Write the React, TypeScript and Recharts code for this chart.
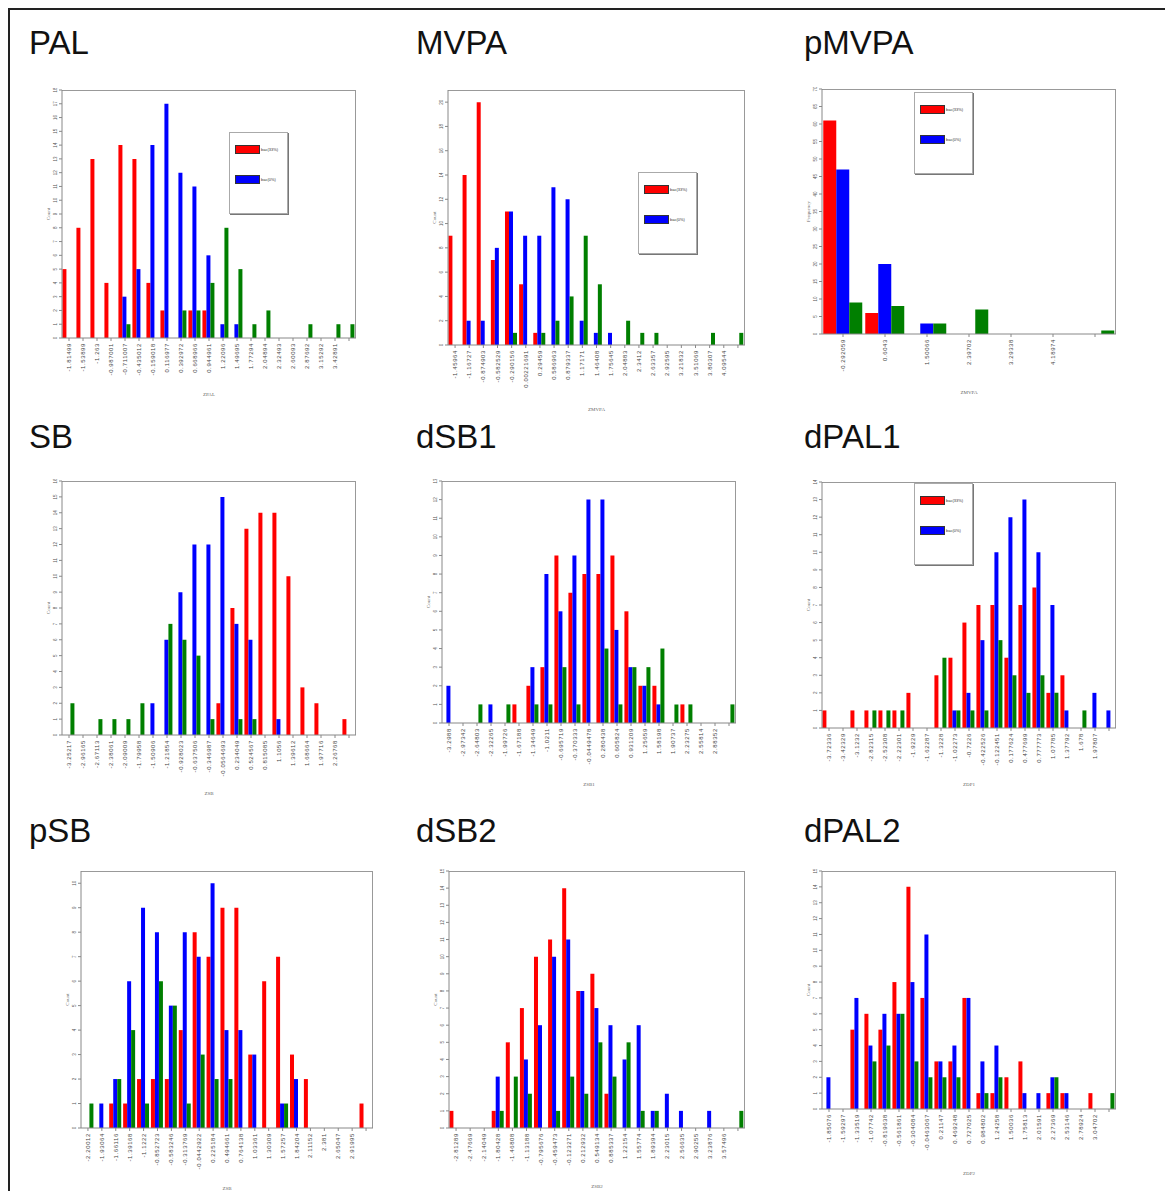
import React from 'react';
import { BarChart, Bar, XAxis, YAxis } from 'recharts';

const RED = '#ff0000';
const BLUE = '#0000ff';
const GREEN = '#007f00';
const SMALL_FONT = '"Liberation Sans", Arial, sans-serif';

// PAL
const palLabels = ['-1.81499', '-1.53899', '-1.263', '-0.987001', '-0.711007', '-0.435012', '-0.159018', '0.116977', '0.392972', '0.668966', '0.944961', '1.22096', '1.49695', '1.77294', '2.04894', '2.32493', '2.60093', '2.87692', '3.15292', '3.42891', ''];
const palRed = [5, 8, 13, 4, 14, 13, 4, 2, 0, 2, 2, 0, 0, 0, 0, 0, 0, 0, 0, 0, 0];
const palBlue = [0, 0, 0, 0, 3, 5, 14, 17, 12, 11, 6, 1, 1, 0, 0, 0, 0, 0, 0, 0, 0];
const palGreen = [0, 0, 0, 0, 1, 0, 0, 0, 2, 2, 4, 8, 5, 1, 2, 0, 0, 1, 0, 1, 1];

// MVPA
const mvpaLabels = ['-1.45964', '-1.16727', '-0.874903', '-0.582529', '-0.290156', '0.00221691', '0.29459', '0.586963', '0.879337', '1.17171', '1.46408', '1.75645', '2.04883', '2.3412', '2.63357', '2.92595', '3.21832', '3.51069', '3.80307', '4.09544', ''];
const mvpaRed = [9, 14, 20, 7, 11, 5, 1, 0, 0, 0, 0, 0, 0, 0, 0, 0, 0, 0, 0, 0, 0];
const mvpaBlue = [0, 2, 2, 8, 11, 9, 9, 13, 12, 2, 1, 1, 0, 0, 0, 0, 0, 0, 0, 0, 0];
const mvpaGreen = [0, 0, 0, 0, 1, 0, 1, 2, 4, 9, 5, 0, 2, 1, 1, 0, 0, 0, 1, 0, 1];

// pMVPA
const pmvpaLabels = ['-0.292059', '0.6043', '1.50066', '2.39702', '3.29338', '4.18974', ''];
const pmvpaRed = [61, 6, 0, 0, 0, 0, 0];
const pmvpaBlue = [47, 20, 3, 0, 0, 0, 0];
const pmvpaGreen = [9, 8, 3, 7, 0, 0, 1];

// SB
const sbLabels = ['-3.25217', '-2.96165', '-2.67113', '-2.38061', '-2.09009', '-1.79958', '-1.50906', '-1.21854', '-0.928023', '-0.637506', '-0.346987', '-0.0564693', '0.234049', '0.524567', '0.815085', '1.1056', '1.39612', '1.68664', '1.97716', '2.26768', ''];
const sbRed = [0, 0, 0, 0, 0, 0, 0, 0, 0, 0, 0, 2, 8, 13, 14, 14, 10, 3, 2, 0, 1];
const sbBlue = [0, 0, 0, 0, 0, 0, 2, 6, 9, 12, 12, 15, 7, 6, 0, 1, 0, 0, 0, 0, 0];
const sbGreen = [2, 0, 1, 1, 1, 2, 0, 7, 6, 5, 1, 0, 1, 1, 0, 0, 0, 0, 0, 0, 0];

// dSB1
const dsb1Labels = ['-3.2988', '-2.97342', '-2.64803', '-2.32265', '-1.99726', '-1.67188', '-1.34649', '-1.0211', '-0.695719', '-0.370333', '-0.0449478', '0.280438', '0.605824', '0.931209', '1.25659', '1.58198', '1.90737', '2.23275', '2.55814', '2.88352', ''];
const dsb1Red = [0, 0, 0, 0, 0, 1, 2, 3, 9, 7, 8, 8, 9, 6, 2, 2, 0, 1, 0, 0, 0];
const dsb1Blue = [2, 0, 0, 1, 0, 0, 3, 8, 6, 9, 12, 12, 5, 3, 2, 1, 0, 0, 0, 0, 0];
const dsb1Green = [0, 0, 1, 0, 1, 0, 1, 1, 3, 1, 0, 4, 1, 3, 3, 4, 1, 1, 0, 0, 1];

// dPAL1
const dpal1Labels = ['-3.72336', '-3.42329', '-3.1232', '-2.82315', '-2.52308', '-2.22301', '-1.9229', '-1.62287', '-1.3228', '-1.02273', '-0.7226', '-0.422526', '-0.122451', '0.177624', '0.477699', '0.777773', '1.07785', '1.37792', '1.678', '1.97807', ''];
const dpal1Red = [1, 0, 1, 1, 1, 1, 2, 0, 3, 4, 6, 7, 7, 4, 7, 8, 2, 3, 0, 0, 0];
const dpal1Blue = [0, 0, 0, 0, 0, 0, 0, 0, 0, 1, 2, 5, 10, 12, 13, 10, 7, 1, 0, 2, 1];
const dpal1Green = [0, 0, 0, 1, 1, 1, 0, 0, 4, 1, 1, 1, 5, 3, 2, 3, 2, 0, 1, 0, 0];

// pSB
const psbLabels = ['-2.20012', '-1.93064', '-1.66116', '-1.39168', '-1.1222', '-0.852723', '-0.583246', '-0.313769', '-0.0442922', '0.225184', '0.494661', '0.764138', '1.03361', '1.30309', '1.57257', '1.84204', '2.11152', '2.381', '2.65047', '2.91995', ''];
const psbRed = [0, 0, 1, 1, 2, 2, 2, 4, 8, 7, 9, 9, 3, 6, 7, 3, 2, 0, 0, 0, 1];
const psbBlue = [0, 1, 2, 6, 9, 8, 5, 8, 7, 10, 4, 4, 3, 0, 1, 2, 0, 0, 0, 0, 0];
const psbGreen = [1, 0, 2, 4, 1, 6, 5, 1, 3, 2, 2, 0, 0, 0, 1, 0, 0, 0, 0, 0, 0];

// dSB2
const dsb2Labels = ['-2.81289', '-2.47669', '-2.14049', '-1.80428', '-1.46808', '-1.13188', '-0.795676', '-0.459473', '-0.123271', '0.212932', '0.549134', '0.885337', '1.22154', '1.55774', '1.89394', '2.23015', '2.56635', '2.90255', '3.23876', '3.57496', ''];
const dsb2Red = [1, 0, 0, 1, 5, 7, 10, 11, 14, 8, 9, 2, 0, 0, 0, 0, 0, 0, 0, 0, 0];
const dsb2Blue = [0, 0, 0, 3, 0, 4, 6, 10, 11, 8, 7, 6, 4, 6, 1, 2, 1, 0, 1, 0, 0];
const dsb2Green = [0, 0, 0, 1, 3, 2, 0, 1, 3, 2, 5, 3, 5, 1, 1, 0, 0, 0, 0, 0, 1];

// dPAL2
const dpal2Labels = ['-1.85076', '-1.59297', '-1.33519', '-1.07742', '-0.819638', '-0.561861', '-0.304084', '-0.0463067', '0.21147', '0.469248', '0.727025', '0.984802', '1.24258', '1.50036', '1.75813', '2.01591', '2.27369', '2.53146', '2.78924', '3.04702', ''];
const dpal2Red = [0, 0, 5, 6, 5, 8, 14, 7, 3, 3, 7, 1, 1, 2, 3, 0, 1, 1, 0, 1, 0];
const dpal2Blue = [2, 0, 7, 4, 6, 6, 8, 11, 3, 4, 7, 3, 4, 0, 1, 1, 2, 1, 0, 0, 0];
const dpal2Green = [0, 0, 0, 3, 4, 6, 3, 2, 2, 2, 0, 1, 2, 0, 0, 0, 2, 0, 0, 0, 1];

const legendNames = ['bac(33%)', 'bac(0%)'];

const rows = (labels: string[], red: number[], blue: number[], green: number[]) =>
  labels.map((label, i) => ({ label, red: red[i], blue: blue[i], green: green[i] }));

const ticksTo = (max: number, step: number) => {
  const t: number[] = [];
  for (let v = 0; v <= max + 1e-9; v += step) t.push(v);
  return t;
};

const XTick = (props: any) => {
  const { x, y, payload } = props;
  return (
    <text
      x={x}
      y={y}
      transform={`rotate(-90 ${x} ${y})`}
      textAnchor="end"
      dominantBaseline="central"
      fontSize={6}
      letterSpacing={0.6}
      fill="#444"
      fontFamily={SMALL_FONT}
    >
      {payload.value}
    </text>
  );
};

const YTick = (props: any) => {
  const { x, y, payload } = props;
  return (
    <text
      x={x}
      y={y}
      transform={`rotate(-90 ${x} ${y})`}
      textAnchor="middle"
      fontSize={4.5}
      fill="#555"
      fontFamily={SMALL_FONT}
    >
      {payload.value}
    </text>
  );
};

interface PanelDef {
  title: string;
  titleX: number;
  titleY: number;
  data: { label: string; red: number; blue: number; green: number }[];
  box: number[];
  yMax: number;
  yStep: number;
  yLabel: string;
  xLabel: string;
  xh: number;
  legend?: number[];
}

const panels: PanelDef[] = [
  { title: 'PAL', titleX: 29, titleY: 26, data: rows(palLabels, palRed, palBlue, palGreen), box: [62, 90, 356, 338], yMax: 18, yStep: 1, yLabel: 'Count', xLabel: 'ZPAL', xh: 58, legend: [229, 132] },
  { title: 'MVPA', titleX: 416, titleY: 26, data: rows(mvpaLabels, mvpaRed, mvpaBlue, mvpaGreen), box: [448, 90, 745, 345], yMax: 21, yStep: 2, yLabel: 'Count', xLabel: 'ZMVPA', xh: 66, legend: [638, 172] },
  { title: 'pMVPA', titleX: 804, titleY: 26, data: rows(pmvpaLabels, pmvpaRed, pmvpaBlue, pmvpaGreen), box: [822, 89, 1116, 334], yMax: 70, yStep: 5, yLabel: 'Frequency', xLabel: 'ZMVPA', xh: 60, legend: [914, 92] },
  { title: 'SB', titleX: 29, titleY: 420, data: rows(sbLabels, sbRed, sbBlue, sbGreen), box: [62, 481, 356, 735], yMax: 16, yStep: 1, yLabel: 'Count', xLabel: 'ZSB', xh: 60 },
  { title: 'dSB1', titleX: 416, titleY: 420, data: rows(dsb1Labels, dsb1Red, dsb1Blue, dsb1Green), box: [442, 481, 736, 723], yMax: 13, yStep: 1, yLabel: 'Count', xLabel: 'ZSB1', xh: 63 },
  { title: 'dPAL1', titleX: 804, titleY: 420, data: rows(dpal1Labels, dpal1Red, dpal1Blue, dpal1Green), box: [822, 482, 1116, 728], yMax: 14, yStep: 1, yLabel: 'Count', xLabel: 'ZDP1', xh: 58, legend: [914, 483] },
  { title: 'pSB', titleX: 29, titleY: 814, data: rows(psbLabels, psbRed, psbBlue, psbGreen), box: [81, 871, 373, 1128], yMax: 10.5, yStep: 1, yLabel: 'Count', xLabel: 'ZSB', xh: 62 },
  { title: 'dSB2', titleX: 416, titleY: 814, data: rows(dsb2Labels, dsb2Red, dsb2Blue, dsb2Green), box: [449, 871, 745, 1128], yMax: 15, yStep: 1, yLabel: 'Count', xLabel: 'ZSB2', xh: 60 },
  { title: 'dPAL2', titleX: 804, titleY: 814, data: rows(dpal2Labels, dpal2Red, dpal2Blue, dpal2Green), box: [822, 871, 1116, 1109], yMax: 15, yStep: 1, yLabel: 'Count', xLabel: 'ZDP2', xh: 66 },
];

const YW = 22;

const LegendBox = ({ left, top }: { left: number; top: number }) => (
  <div
    style={{
      position: 'absolute',
      left,
      top,
      width: 57,
      height: 80,
      border: '1px solid #aaa',
      boxShadow: '1px 1px 0 #777',
      background: '#fff',
      fontFamily: SMALL_FONT,
      fontSize: 4,
      color: '#333',
    }}
  >
    {[RED, BLUE].map((c, i) => (
      <div key={c} style={{ position: 'absolute', left: 5, top: 12 + i * 30, display: 'flex', alignItems: 'center' }}>
        <div style={{ width: 23, height: 7, background: c, border: '0.5px solid #333' }} />
        <span style={{ marginLeft: 1 }}>{legendNames[i]}</span>
      </div>
    ))}
  </div>
);

const Panel = ({ p }: { p: PanelDef }) => {
  const [x0, y0, x1, y1] = p.box;
  const width = x1 - x0 + YW + 1;
  const height = y1 - y0 + 2 + p.xh;
  return (
    <>
      <div
        style={{
          position: 'absolute',
          left: p.titleX,
          top: p.titleY,
          fontFamily: '"Liberation Sans", Arial, sans-serif',
          fontSize: 33,
          lineHeight: 1,
          color: '#111',
        }}
      >
        {p.title}
      </div>
      {/* grey frame on the top and right of the plot area */}
      <div
        style={{
          position: 'absolute',
          left: x0,
          top: y0,
          width: x1 - x0,
          height: y1 - y0,
          borderTop: '1.5px solid #999',
          borderRight: '1.5px solid #999',
          boxSizing: 'border-box',
        }}
      />
      <div style={{ position: 'absolute', left: x0 - YW, top: y0 - 2 }}>
        <BarChart
          width={width}
          height={height}
          data={p.data}
          margin={{ top: 2, right: 1, left: 0, bottom: 0 }}
          barCategoryGap="3%"
          barGap={0}
        >
          <XAxis
            dataKey="label"
            interval={0}
            height={p.xh}
            tick={<XTick />}
            tickSize={3}
            stroke="#888"
            label={{ value: p.xLabel, position: 'insideBottom', offset: 0, fontSize: 5, fill: '#666' }}
          />
          <YAxis
            width={YW}
            domain={[0, p.yMax]}
            ticks={ticksTo(p.yMax, p.yStep)}
            interval={0}
            allowDecimals
            tick={<YTick />}
            tickSize={3}
            stroke="#888"
            label={{ value: p.yLabel, angle: -90, position: 'center', dx: -3, fontSize: 5, fill: '#666' }}
          />
          <Bar dataKey="red" fill={RED} isAnimationActive={false} />
          <Bar dataKey="blue" fill={BLUE} isAnimationActive={false} />
          <Bar dataKey="green" fill={GREEN} isAnimationActive={false} />
        </BarChart>
      </div>
      {p.legend && <LegendBox left={p.legend[0]} top={p.legend[1]} />}
    </>
  );
};

export default function App() {
  return (
    <div
      style={{
        position: 'absolute',
        left: 0,
        top: 0,
        width: 1165,
        height: 1191,
        overflow: 'hidden',
        background: '#fff',
      }}
    >
      <div
        style={{
          position: 'absolute',
          left: 8,
          top: 8,
          width: 1200,
          height: 1250,
          borderTop: '2px solid #222',
          borderLeft: '2px solid #222',
        }}
      />
      {panels.map((p) => (
        <Panel key={p.title} p={p} />
      ))}
    </div>
  );
}
